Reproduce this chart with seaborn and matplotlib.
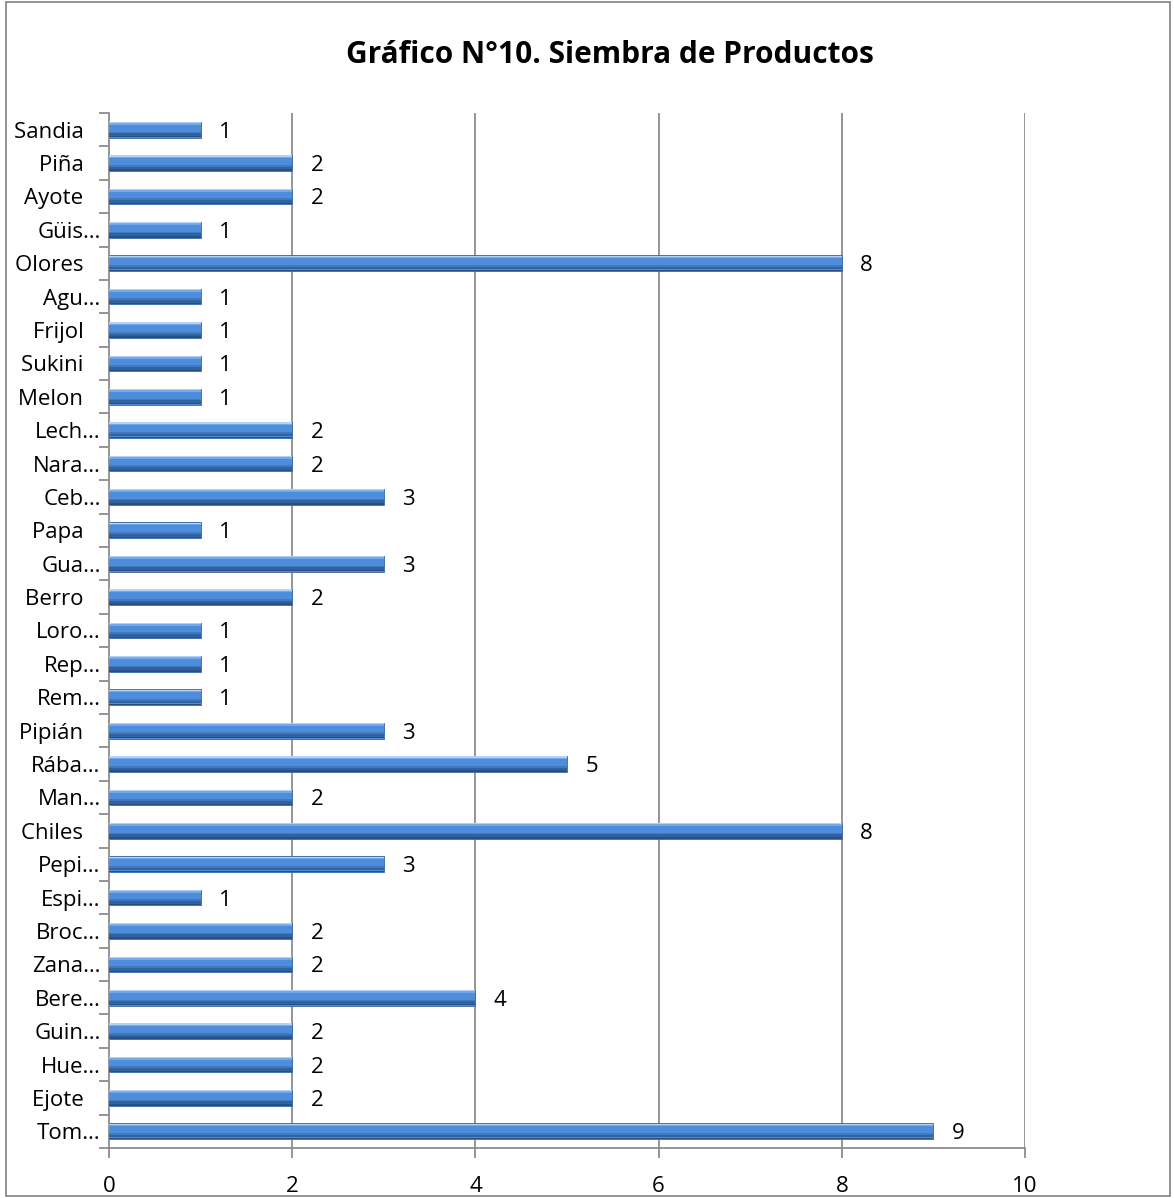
import matplotlib
matplotlib.use("Agg")
import matplotlib.pyplot as plt
import seaborn as sns
import pandas as pd
import numpy as np
from matplotlib.patches import Rectangle

categories = ["Sandia   ", "Piña   ", "Ayote   ", "Güis…", "Olores   ", "Agu…", "Frijol   ", "Sukini   ",
              "Melon   ", "Lech…", "Nara…", "Ceb…", "Papa   ", "Gua…", "Berro   ", "Loro…",
              "Rep…", "Rem…", "Pipián   ", "Rába…", "Man…", "Chiles   ", "Pepi…", "Espi…",
              "Broc…", "Zana…", "Bere…", "Guin…", "Hue…", "Ejote   ", "Tom…"]
values = [1, 2, 2, 1, 8, 1, 1, 1, 1, 2, 2, 3, 1, 3, 2, 1, 1, 1, 3, 5, 2, 8, 3, 1,
          2, 2, 4, 2, 2, 2, 9]
x_ticks = [0, 2, 4, 6, 8, 10]
title = "Gráfico N°10. Siembra de Productos"

sns.set_theme(style="white")
plt.rcParams['font.family'] = ['Open Sans', 'DejaVu Sans']
plt.rcParams['text.color'] = 'black'
plt.rcParams['xtick.labelcolor'] = 'black'
plt.rcParams['ytick.labelcolor'] = 'black'

df = pd.DataFrame({"cat": categories, "val": values})

fig = plt.figure(figsize=(11.74, 11.98), dpi=100)
ax = fig.add_axes([109/1174, 1 - 1148/1198, (1025 - 109)/1174, (1148 - 113)/1198])

for xv in x_ticks[1:]:
    ax.axvline(xv, color="#8c8c8c", lw=1.3, zorder=0)

H = 0.47
sns.barplot(data=df, x="val", y="cat", orient="h", color="#4d8ddc", width=H,
            edgecolor="#3a68a6", linewidth=0.6, saturation=1, ax=ax, zorder=2)
# glossy gradient bands
ypos = np.arange(len(categories))
bands = [(-0.21, 0.04, "#b3d2f5", 1.0),
         (-0.17, 0.05, "#78aceb", 0.9),
         (0.08, 0.05, "#3e74bb", 0.8),
         (0.145, 0.08, "#2f5d9a", 0.9),
         (0.21, 0.04, "#244a7c", 0.9)]
for off, h, c, a in bands:
    ax.barh(ypos + off, values, height=h, color=c, lw=0, alpha=a, zorder=3)

for i, v in enumerate(values):
    ax.text(v + 0.2, i, str(v), va="center_baseline", ha="left", fontsize=16, color="black")

ax.set_xlim(0, 10)
ax.set_ylim(len(categories) - 0.5, -0.5)
ax.set_xticks(x_ticks)
ax.set_xticklabels([str(t) for t in x_ticks], fontsize=16)
ax.set_xlabel("")
ax.set_ylabel("")
ax.tick_params(axis="y", which="major", length=0, labelsize=16, pad=6)
ax.set_yticks(np.arange(-0.5, len(categories), 1), minor=True)
ax.tick_params(axis="y", which="minor", length=7, color="#8c8c8c", width=1.3, direction="out", left=True)
ax.tick_params(axis="x", which="major", length=7, color="#8c8c8c", width=1.3, direction="out", bottom=True, pad=13)

for s in ["top", "right"]:
    ax.spines[s].set_visible(False)
for s in ["left", "bottom"]:
    ax.spines[s].set_color("#8c8c8c")
    ax.spines[s].set_linewidth(1.3)

fig.text(610/1174, 1 - 55/1198, title, ha="center", va="center", fontsize=21.5,
         fontweight="bold", color="black")

fig.patches.append(Rectangle((6/1174, 0.002), 1 - 10/1174, 0.996, transform=fig.transFigure,
                             fill=False, edgecolor="#7f7f7f", lw=1.2))

fig.savefig("out.png", dpi=100)
